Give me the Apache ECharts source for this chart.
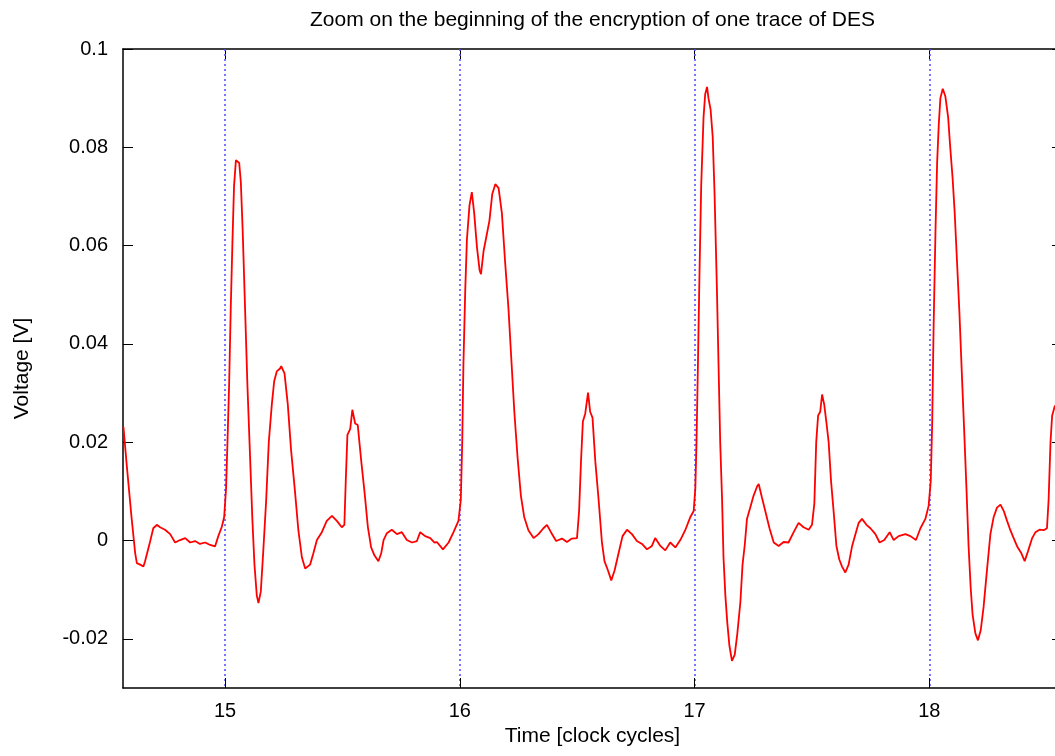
<!DOCTYPE html>
<html>
<head>
<meta charset="utf-8">
<script src="https://cdn.jsdelivr.net/npm/echarts@6/dist/echarts.min.js"></script>
<style>
html,body{margin:0;padding:0;background:#fff;}
#c{width:1055px;height:756px;}
</style>
</head>
<body>
<div id="c"></div>
<script>
// ---- data ----
const chartTitle = 'Zoom on the beginning of the encryption of one trace of DES';
const xAxisName = 'Time [clock cycles]';
const yAxisName = 'Voltage [V]';
const xTicks = [15, 16, 17, 18];
const yTicks = [-0.02, 0, 0.02, 0.04, 0.06, 0.08, 0.1];
const xRange = [14.565, 18.565];
const yRange = [-0.03, 0.1];

const timeValues = [
14.567,14.581,14.602,14.617,14.624,14.638,14.652,14.659,14.680,14.694,14.709,14.723,14.744,14.766,14.787,14.808,14.830,14.851,14.872,14.893,14.915,14.936,14.957,14.971,14.986,14.996,
15.004,15.010,15.017,15.024,15.031,15.038,15.046,15.052,15.060,15.067,15.075,15.085,15.095,15.107,15.116,15.125,15.135,15.142,15.152,15.163,15.175,15.186,15.199,15.209,15.220,15.234,
15.239,15.253,15.267,15.281,15.298,15.312,15.327,15.341,15.362,15.376,15.391,15.412,15.433,15.455,15.476,15.497,15.508,15.514,15.521,15.533,15.542,15.554,15.565,15.580,15.594,15.608,
15.622,15.636,15.653,15.665,15.675,15.689,15.710,15.732,15.753,15.774,15.796,15.817,15.831,15.852,15.874,15.892,
15.902,15.928,15.952,15.973,15.994,16.004,16.010,16.015,16.023,16.030,16.041,16.051,16.061,16.073,16.084,16.090,16.101,16.112,16.126,16.138,16.151,16.165,16.179,16.193,16.207,16.219,
16.232,16.246,16.260,16.274,16.292,16.314,16.335,16.356,16.371,16.388,16.410,16.435,16.456,16.477,16.499,16.508,16.516,16.524,16.534,16.546,16.555,16.565,16.577,16.591,16.605,16.616,
16.631,16.645,16.659,16.676,16.693,16.712,16.733,16.754,16.776,16.797,16.818,16.832,16.854,16.875,16.896,16.918,16.939,16.960,16.982,16.996,
17.003,17.008,17.014,17.021,17.028,17.038,17.045,17.053,17.059,17.068,17.077,17.085,17.095,17.102,17.109,17.117,17.123,17.131,17.139,17.148,17.159,17.171,17.182,17.195,17.204,17.214,
17.223,17.237,17.251,17.266,17.273,17.287,17.301,17.319,17.337,17.358,17.379,17.400,17.422,17.443,17.464,17.486,17.500,17.510,17.518,17.526,17.535,17.543,17.552,17.561,17.571,17.581,
17.592,17.604,17.616,17.628,17.642,17.656,17.671,17.685,17.699,17.713,17.732,17.749,17.770,17.788,17.808,17.831,17.848,17.869,17.876,17.898,17.919,17.943,17.962,17.983,17.997,
18.006,18.012,18.018,18.026,18.033,18.040,18.047,18.057,18.068,18.080,18.089,18.099,18.108,18.118,18.128,18.139,18.149,18.158,18.167,18.176,18.184,18.196,18.207,18.219,18.231,18.246,
18.260,18.274,18.288,18.303,18.317,18.331,18.345,18.359,18.374,18.392,18.406,18.420,18.438,18.452,18.469,18.487,18.501,18.508,18.516,18.523,18.534,18.558
];
const voltageValues = [
0.0231,0.0153,0.0044,-0.0026,-0.0046,-0.0049,-0.0053,-0.0042,-0.0003,0.0025,0.0032,0.0027,0.0022,0.0013,-0.0004,0.0001,0.0005,-0.0004,-0.0001,-0.0007,-0.0004,-0.0009,-0.0012,0.0009,0.0028,0.0048,
0.0106,0.0200,0.0316,0.0472,0.0604,0.0721,0.0774,0.0777,0.0768,0.0729,0.0628,0.0472,0.0316,0.0161,0.0044,-0.0049,-0.0112,-0.0127,-0.0104,-0.0018,0.0083,0.0200,0.0277,0.0324,0.0344,0.0350,
0.0355,0.0340,0.0277,0.0184,0.0098,0.0021,-0.0034,-0.0057,-0.0049,-0.0026,0.0001,0.0017,0.0040,0.0050,0.0040,0.0027,0.0032,0.0122,0.0215,0.0227,0.0266,0.0238,0.0235,0.0161,0.0098,0.0028,
-0.0014,-0.0030,-0.0042,-0.0026,0.0001,0.0015,0.0022,0.0013,0.0017,0.0001,-0.0004,-0.0001,0.0017,0.0009,0.0005,-0.0004,
-0.0003,-0.0018,-0.0004,0.0017,0.0040,0.0083,0.0200,0.0355,0.0511,0.0612,0.0682,0.0709,0.0666,0.0596,0.0550,0.0542,0.0589,0.0616,0.0651,0.0705,0.0725,0.0717,0.0666,0.0565,0.0472,0.0371,
0.0262,0.0168,0.0091,0.0048,0.0021,0.0005,0.0013,0.0025,0.0032,0.0017,-0.0001,0.0004,-0.0003,0.0004,0.0005,0.0060,0.0161,0.0242,0.0258,0.0301,0.0262,0.0250,0.0161,0.0083,-0.0003,-0.0042,
-0.0061,-0.0081,-0.0061,-0.0026,0.0009,0.0022,0.0013,-0.0001,-0.0007,-0.0018,-0.0011,0.0005,-0.0011,-0.0020,-0.0004,-0.0014,0.0001,0.0021,0.0048,0.0060,
0.0106,0.0200,0.0355,0.0550,0.0721,0.0861,0.0908,0.0923,0.0900,0.0877,0.0822,0.0705,0.0511,0.0355,0.0200,0.0083,-0.0034,-0.0112,-0.0166,-0.0213,-0.0245,-0.0232,-0.0189,-0.0125,-0.0050,-0.0007,
0.0044,0.0067,0.0091,0.0110,0.0115,0.0087,0.0060,0.0025,-0.0004,-0.0011,-0.0003,-0.0004,0.0017,0.0036,0.0027,0.0022,0.0032,0.0075,0.0200,0.0254,0.0262,0.0297,0.0277,0.0242,0.0200,0.0122,
0.0060,-0.0011,-0.0038,-0.0053,-0.0065,-0.0049,-0.0011,0.0013,0.0036,0.0044,0.0032,0.0025,0.0013,-0.0004,0.0001,0.0017,0.0001,0.0009,0.0005,0.0013,0.0009,0.0001,0.0025,0.0044,0.0071,
0.0122,0.0239,0.0433,0.0628,0.0768,0.0846,0.0900,0.0919,0.0904,0.0861,0.0799,0.0737,0.0666,0.0565,0.0464,0.0332,0.0215,0.0106,-0.0011,-0.0096,-0.0150,-0.0189,-0.0203,-0.0182,-0.0135,-0.0057,
0.0013,0.0048,0.0067,0.0073,0.0060,0.0040,0.0021,0.0005,-0.0012,-0.0026,-0.0042,-0.0022,0.0005,0.0017,0.0022,0.0021,0.0025,0.0083,0.0200,0.0254,0.0273,0.0280
];

// ---- chart ----
const font = 'Liberation Sans, Arial, Helvetica, sans-serif';
const traceData = timeValues.map((t, i) => [t, voltageValues[i]]);
const fmt = v => String(+(+v).toFixed(3));
const axisLineStyle = { color: '#000', width: 1.5 };
const tickStyle = { color: '#000', width: 1 };
const tickFont = 20;
const nameFont = 21;

const chart = echarts.init(document.getElementById('c'), null, { renderer: 'canvas' });
chart.setOption({
  animation: false,
  backgroundColor: '#fff',
  textStyle: { fontFamily: font },
  grid: { left: 123, top: 49, width: 939, height: 639, outerBoundsMode: 'none', containLabel: false },
  xAxis: [
    {
      type: 'value', position: 'bottom', min: xRange[0], max: xRange[1],
      name: xAxisName, nameLocation: 'middle', nameGap: 37,
      nameTextStyle: { fontSize: nameFont, color: '#000', fontFamily: font },
      axisLine: { show: true, onZero: false, lineStyle: axisLineStyle },
      axisTick: { show: true, inside: true, length: 10, customValues: xTicks, lineStyle: tickStyle },
      axisLabel: { show: true, customValues: xTicks, margin: 13, fontSize: tickFont, color: '#000', fontFamily: font, formatter: fmt },
      splitLine: { show: true, lineStyle: { color: '#5555ff', type: [2, 3], width: 1.6 } },
      z: 1
    },
    {
      type: 'value', position: 'top', min: xRange[0], max: xRange[1],
      name: chartTitle, nameLocation: 'middle', nameGap: 18,
      nameTextStyle: { fontSize: nameFont, color: '#000', fontFamily: font },
      axisLine: { show: true, onZero: false, lineStyle: axisLineStyle },
      axisTick: { show: true, inside: true, length: 10, customValues: xTicks, lineStyle: tickStyle },
      axisLabel: { show: false },
      splitLine: { show: false }
    }
  ],
  yAxis: [
    {
      type: 'value', position: 'left', min: yRange[0], max: yRange[1],
      name: yAxisName, nameLocation: 'middle', nameGap: 90, nameRotate: 90,
      nameTextStyle: { fontSize: nameFont, color: '#000', fontFamily: font },
      axisLine: { show: true, onZero: false, lineStyle: axisLineStyle },
      axisTick: { show: true, inside: true, length: 10, customValues: yTicks, lineStyle: tickStyle },
      axisLabel: { show: true, customValues: yTicks, margin: 15, fontSize: tickFont, color: '#000', fontFamily: font, formatter: fmt },
      splitLine: { show: false }
    },
    {
      type: 'value', position: 'right', min: yRange[0], max: yRange[1],
      axisLine: { show: true, onZero: false, lineStyle: axisLineStyle },
      axisTick: { show: true, inside: true, length: 10, customValues: yTicks, lineStyle: tickStyle },
      axisLabel: { show: false },
      splitLine: { show: false }
    }
  ],
  series: [
    {
      type: 'line', data: traceData, z: 3, silent: true,
      showSymbol: false, symbol: 'none',
      lineStyle: { color: '#ff0000', width: 1.8 },
      emphasis: { disabled: true }
    }
  ]
});
</script>
</body>
</html>
